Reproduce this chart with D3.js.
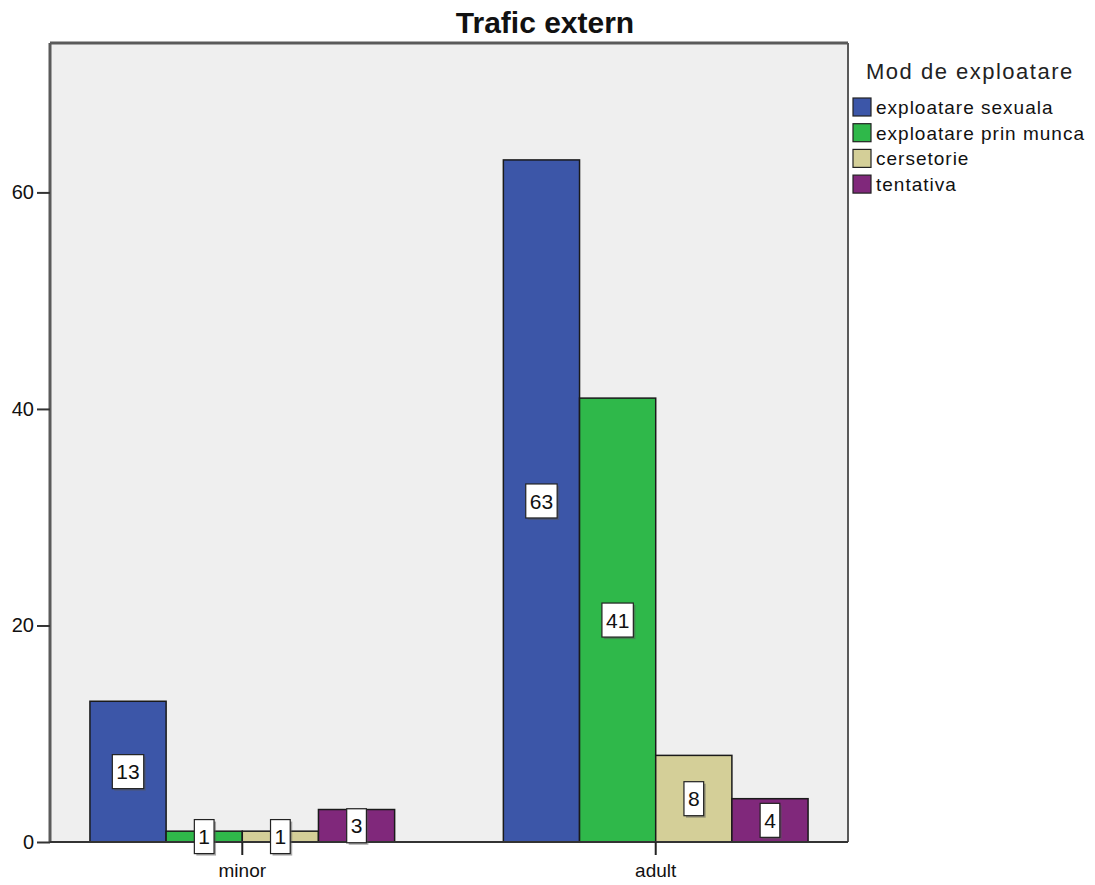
<!DOCTYPE html>
<html><head><meta charset="utf-8">
<script src="https://cdn.jsdelivr.net/npm/d3@7"></script>
<style>body{margin:0;background:#fff}svg{display:block}text{font-family:"Liberation Sans",Arial,sans-serif}</style>
</head><body>
<svg id="c" width="1095" height="885"></svg>
<script>
const categories = ["minor", "adult"];
const seriesNames = ["exploatare sexuala", "exploatare prin munca", "cersetorie", "tentativa"];
const sexuala = [13, 63];
const munca = [1, 41];
const cersetorie = [1, 8];
const tentativa = [3, 4];
const yTicks = [0, 20, 40, 60];
const colors = ["#3c56a8", "#2fb84a", "#d4cf98", "#80287b"];
const seriesValues = [sexuala, munca, cersetorie, tentativa];

const svg = d3.select("#c");
const L = 50, T = 43, R = 848, B = 842;
const W = R - L, H = B - T;

const x = d3.scaleBand().domain(categories).range([0, W]).paddingInner(0.263).paddingOuter(0.0966);
const xs = d3.scaleBand().domain(seriesNames).range([0, x.bandwidth()]);
const y = d3.scaleLinear().domain([0, 73.8]).range([H, 0]);

const g = svg.append("g").attr("transform", `translate(${L},${T})`);
g.append("rect").attr("width", W).attr("height", H).attr("fill", "#efefef");

// bars
const data = [];
categories.forEach((c, i) => seriesNames.forEach((s, j) => data.push({c, s, v: seriesValues[j][i], col: colors[j]})));
g.selectAll("rect.bar").data(data).enter().append("rect").attr("class", "bar")
  .attr("x", d => x(d.c) + xs(d.s)).attr("width", xs.bandwidth())
  .attr("y", d => y(d.v)).attr("height", d => H - y(d.v))
  .attr("fill", d => d.col).attr("stroke", "#1a1a1a").attr("stroke-width", 1.5);

// frame
g.append("line").attr("x1", 0).attr("x2", W).attr("y1", 0).attr("y2", 0).attr("stroke", "#5a5a5a").attr("stroke-width", 3);
g.append("line").attr("x1", 0).attr("x2", 0).attr("y1", 0).attr("y2", H).attr("stroke", "#5a5a5a").attr("stroke-width", 3);
g.append("line").attr("x1", W).attr("x2", W).attr("y1", 0).attr("y2", H).attr("stroke", "#5a5a5a").attr("stroke-width", 2);
g.append("line").attr("x1", 0).attr("x2", W).attr("y1", H).attr("y2", H).attr("stroke", "#333").attr("stroke-width", 2);

// y axis
const ya = d3.axisLeft(y).tickValues(yTicks).tickSize(13).tickPadding(3).tickFormat(d3.format("d"));
const yg = g.append("g").call(ya);
yg.select(".domain").remove();
yg.selectAll(".tick line").attr("stroke", "#333").attr("stroke-width", 2);
yg.selectAll(".tick text").attr("font-size", 20).attr("fill", "#111").attr("font-family", "Liberation Sans, Arial");

// x axis
const xa = d3.axisBottom(x).tickSize(13).tickPadding(9);
const xg = g.append("g").attr("transform", `translate(0,${H})`).call(xa);
xg.select(".domain").remove();
xg.selectAll(".tick line").attr("stroke", "#222").attr("stroke-width", 2);
xg.selectAll(".tick text").attr("font-size", 19).attr("fill", "#111").attr("font-family", "Liberation Sans, Arial");

// value labels
const lab = g.selectAll("g.lab").data(data).enter().append("g").attr("class", "lab")
  .attr("transform", d => `translate(${x(d.c) + xs(d.s) + xs.bandwidth() / 2},${y(d.v / 2)})`);
lab.each(function(d) {
  const s = d3.select(this);
  const t = String(d.v);
  const w = t.length * 11.7 + 8;
  s.append("rect").attr("x", -w / 2 + 2).attr("y", -17 + 2).attr("width", w).attr("height", 34).attr("fill", "#555").attr("opacity", 0.5);
  s.append("rect").attr("x", -w / 2).attr("y", -17).attr("width", w).attr("height", 34).attr("fill", "#fff").attr("stroke", "#222").attr("stroke-width", 1.2);
  s.append("text").attr("text-anchor", "middle").attr("dy", "0.36em").attr("font-size", 21).attr("fill", "#111").text(t);
});

// title
svg.append("text").attr("x", 545).attr("y", 33).attr("text-anchor", "middle").attr("font-size", 30).attr("font-weight", "bold").attr("fill", "#111").text("Trafic extern");

// legend
svg.append("text").attr("x", 866).attr("y", 79).attr("font-size", 22).attr("letter-spacing", 1.5).attr("fill", "#222").text("Mod de exploatare");
const lg = svg.selectAll("g.leg").data(seriesNames).enter().append("g").attr("class", "leg")
  .attr("transform", (d, i) => `translate(853,${98 + i * 25.7})`);
lg.append("rect").attr("width", 18).attr("height", 18).attr("fill", (d, i) => colors[i]).attr("stroke", "#222").attr("stroke-width", 1.2);
lg.append("text").attr("x", 23).attr("y", 16).attr("font-size", 19).attr("letter-spacing", 1).attr("fill", "#111").text(d => d);
</script>
</body></html>
